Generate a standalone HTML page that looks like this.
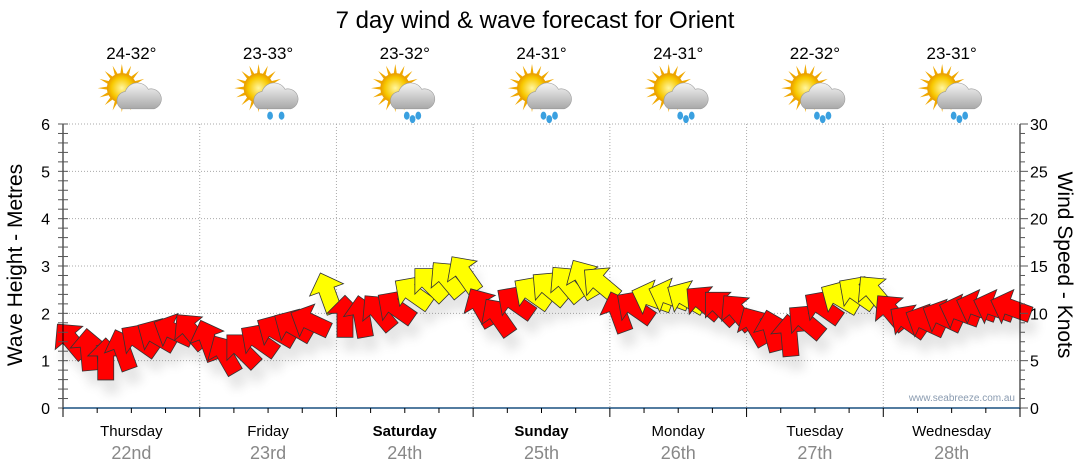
<!DOCTYPE html>
<html><head><meta charset="utf-8"><style>
body{margin:0;background:#fff;}
svg{display:block;font-family:"Liberation Sans",sans-serif;}
</style></head><body>
<svg id="chart" width="1080" height="475" viewBox="0 0 1080 475">
<defs>
<filter id="sh" x="-50%" y="-50%" width="200%" height="200%"><feGaussianBlur stdDeviation="5"/></filter>
<radialGradient id="sun" cx="0.5" cy="0.5" r="0.5"><stop offset="0" stop-color="#fff6a0"/><stop offset="0.7" stop-color="#f8c800"/><stop offset="1" stop-color="#e89a00"/></radialGradient>
<linearGradient id="cloud" x1="0" y1="0" x2="0" y2="1"><stop offset="0" stop-color="#f4f4f4"/><stop offset="1" stop-color="#a8a8a8"/></linearGradient>
</defs>
<text x="535" y="28" text-anchor="middle" font-size="24" fill="#000">7 day wind &amp; wave forecast for Orient</text>
<g id="grid"></g>
<g id="shadows" opacity="0.15" filter="url(#sh)"></g>
<g id="arrows"></g>
<g id="axes"></g>
<g id="icons"></g>
<text transform="translate(22,265) rotate(-90)" text-anchor="middle" font-size="21">Wave Height - Metres</text>
<text transform="translate(1058,265) rotate(90)" text-anchor="middle" font-size="21">Wind Speed - Knots</text>
<text x="1015" y="401" text-anchor="end" font-size="10" fill="#8a9bb0">www.seabreeze.com.au</text>
</svg>
<script>
const days=["Thursday","Friday","Saturday","Sunday","Monday","Tuesday","Wednesday"];
const dates=["22nd","23rd","24th","25th","26th","27th","28th"];
const temps=["24-32°","23-33°","23-32°","24-31°","24-31°","22-32°","23-31°"];
const rain=[0,1,2,2,2,2,2];
const waveTicks=[0,1,2,3,4,5,6];
const knotTicks=[0,5,10,15,20,25,30];
const windSpeed=[7.5,6.5,5.5,6.5,7.5,8,8.5,8.5, 7.5,6,6.5,7.5,8.5,9,9.5,12.5, 10,10,10.5,11,12.5,13.5,14,14.5, 11,10,11.5,12.5,13,13.5,14,13.5, 10.5,11,12,12.2,12,11.5,11,10.5, 9,8.5,8,9.5,11,12,12.5,12.5, 10.5,9.5,9.5,10,10.5,11,11,11];
const windDir=[-40,-5,0,-20,-55,-60,-65,-40, -20,-30,-45,-55,-60,-60,-65,-20, 0,-10,-40,-55,-55,-45,-40,-35, -30,-35,-55,-55,-50,-40,-30,-50, -20,-55,-70,-70,-60,-50,-45,-40, -30,-15,-5,-50,-55,-60,-55,-40, -40,-55,-65,-65,-70,-70,-70,-70];
const X0=63,X1=1020,Y0=408,Y6=124;
const dayW=(X1-X0)/7;
const xh=h=>X0+h*(X1-X0)/168;
const yW=v=>Y0-v*(Y0-Y6)/6;
const yK=k=>Y0-k*(Y0-Y6)/30;
const NS="http://www.w3.org/2000/svg";
function mk(t,a,p){const e=document.createElementNS(NS,t);for(const k in a)e.setAttribute(k,a[k]);p.appendChild(e);return e;}
const grid=document.getElementById('grid'),axes=document.getElementById('axes'),arr=document.getElementById('arrows'),shd=document.getElementById('shadows'),icons=document.getElementById('icons');
waveTicks.forEach(v=>{if(v>0){const l=mk('line',{x1:X0,x2:X1,y1:yW(v),y2:yW(v),stroke:'#aaa','stroke-dasharray':'1,2'},grid);

}
const t=mk('text',{x:50,y:yW(v)+6,'text-anchor':'end','font-size':16},axes);t.textContent=v;

});
knotTicks.forEach(k=>{const t=mk('text',{x:1030,y:yK(k)+6,'font-size':16},axes);t.textContent=k;

});
for(let i=1;i<7;i++){const l=mk('line',{x1:X0+i*dayW,x2:X0+i*dayW,y1:Y6,y2:Y0,stroke:'#aaa','stroke-dasharray':'1,2'},grid);

}
mk('line',{x1:X0,x2:X0,y1:Y6,y2:Y0,stroke:'#000'},axes);
mk('line',{x1:X1,x2:X1,y1:Y6,y2:Y0,stroke:'#000'},axes);
for(let i=0;i<=30;i++){const y=yK(i);const maj=i%5==0;
mk('line',{x1:X0,x2:X0+5,y1:y,y2:y,stroke:'#555'},axes);
mk('line',{x1:X0-5,x2:X0,y1:y,y2:y,stroke:'#555'},axes);
mk('line',{x1:X1,x2:X1+(maj?8:5),y1:y,y2:y,stroke:'#555'},axes);}
mk('line',{x1:X0,x2:X1,y1:Y0,y2:Y0,stroke:'#1a5080','stroke-width':1.5},axes);
for(let h=0;h<=168;h+=6){mk('line',{x1:xh(h),x2:xh(h),y1:Y0,y2:Y0+(h%24==0?9:5),stroke:'#000'},axes);}
days.forEach((d,i)=>{const cx=X0+(i+0.5)*dayW;
const t=mk('text',{x:cx,y:436,'text-anchor':'middle','font-size':15,'font-weight':(i==2||i==3)?'bold':'normal'},axes);t.textContent=d;


const t2=mk('text',{x:cx,y:459,'text-anchor':'middle','font-size':18,fill:'#888'},axes);t2.textContent=dates[i];


const t3=mk('text',{x:cx,y:59,'text-anchor':'middle','font-size':17},icons);t3.textContent=temps[i];


const g=mk('g',{transform:`translate(${cx+2},95) scale(1.15)`},icons);


for(let r=0;r<16;r++){const a=r*Math.PI/8;mk('polygon',{points:`${-10+Math.cos(a)*21},${-6+Math.sin(a)*21} ${-10+Math.cos(a+0.15)*11},${-6+Math.sin(a+0.15)*11} ${-10+Math.cos(a-0.15)*11},${-6+Math.sin(a-0.15)*11}`,fill:'#f0a800'},g);}
mk('circle',{cx:-10,cy:-6,r:13,fill:'url(#sun)'},g);
mk('path',{d:'M-10,12 a8,8 0 0 1 3,-15 a11,11 0 0 1 20,-2 a8.5,8.5 0 0 1 5,17 z',fill:'url(#cloud)',stroke:'#999','stroke-width':0.5},g);
if(rain[i]>0){[[0,16],[10,16],[5,19]].slice(0,rain[i]==1?2:3).forEach(p=>mk('ellipse',{cx:p[0],cy:p[1]+2,rx:2.5,ry:3.5,fill:'#3aa0e0'},g));}
});
const pts="0,-22 18,-4 8,-4 8,20 -8,20 -8,-4 -18,-4";
windSpeed.forEach((k,i)=>{const x=xh(i*3+1.5),y=yK(k)+4;
const s=mk('polygon',{points:pts,transform:`translate(${x+6},${y+14}) rotate(${windDir[i]})`,fill:'#555'},shd);


const p=mk('polygon',{points:pts,transform:`translate(${x},${y}) rotate(${windDir[i]})`,fill:k>=11.8?'#ffff00':'#ff0000',stroke:'#333','stroke-width':0.8},arr);

});
</script>
</body></html>
